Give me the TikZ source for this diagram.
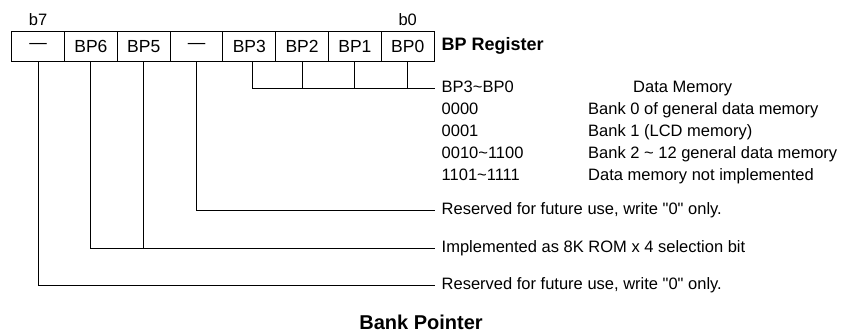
\documentclass[tikz,border=0pt]{standalone}
\usepackage{fontspec}
\setmainfont{Liberation Sans}[Ligatures=TeXOff]
\begin{document}
\begin{tikzpicture}[x=1pt,y=-1pt,
  cell/.style={draw=black,line width=0.9pt,minimum width=52.8pt,minimum height=30.7pt,inner sep=0pt,font=\fontsize{17.5}{19}\selectfont},
  lbl/.style={anchor=west,inner sep=0pt,text height=11.5pt,text depth=3pt,font=\fontsize{16.5}{18}\selectfont},
  bitlbl/.style={inner sep=0pt,font=\fontsize{16.5}{18}\selectfont},
  conn/.style={draw=black,line width=0.9pt}]
\useasboundingbox (0,0) rectangle (845,333);
% register cells
\node[cell] (c7) at (38.1,46.3) {—};
\node[cell] (c6) at (90.9,46.3) {BP6};
\node[cell] (c5) at (143.7,46.3) {BP5};
\node[cell] (c4) at (196.5,46.3) {—};
\node[cell] (c3) at (249.3,46.3) {BP3};
\node[cell] (c2) at (302.1,46.3) {BP2};
\node[cell] (c1) at (354.9,46.3) {BP1};
\node[cell] (c0) at (407.7,46.3) {BP0};
\node[bitlbl] (b7) at (38.1,20) {b7};
\node[bitlbl] (b0) at (407.7,20) {b0};
\node[lbl,font=\fontsize{18}{20}\selectfont\bfseries] (reg) at (441.5,46.3) {BP Register};
% data memory table
\node[lbl] (t0) at (441.5,88) {BP3\char`\~BP0};
\node[lbl] (dm) at (633,88) {Data Memory};
\node[lbl] (r1) at (441.5,110) {0000};
\node[lbl] (d1) at (588,110) {Bank 0 of general data memory};
\node[lbl] (r2) at (441.5,132) {0001};
\node[lbl] (d2) at (588,132) {Bank 1 (LCD memory)};
\node[lbl] (r3) at (441.5,154) {0010\char`\~1100};
\node[lbl] (d3) at (588,154) {Bank 2 \char`\~{} 12 general data memory};
\node[lbl] (r4) at (441.5,176) {1101\char`\~1111};
\node[lbl] (d4) at (588,176) {Data memory not implemented};
% descriptions
\node[lbl] (res4) at (441.5,210) {Reserved for future use, write "0" only.};
\node[lbl] (impl) at (441.5,248) {Implemented as 8K ROM x 4 selection bit};
\node[lbl] (res7) at (441.5,285) {Reserved for future use, write "0" only.};
\node[inner sep=0pt,font=\fontsize{20}{22}\selectfont\bfseries] (title) at (421,322) {Bank Pointer};
% connectors
\draw[conn] ([xshift=3.5pt]c3.south) |- ([xshift=-7pt]t0.west);
\draw[conn] (c2.south) -- (c2.south |- t0.west);
\draw[conn] (c1.south) -- (c1.south |- t0.west);
\draw[conn] (c0.south) -- (c0.south |- t0.west);
\draw[conn] (c4.south) |- ([xshift=-7pt]res4.west);
\draw[conn] (c6.south) |- ([xshift=-7pt]impl.west);
\draw[conn] (c5.south) -- (c5.south |- impl.west);
\draw[conn] (c7.south) |- ([xshift=-7pt]res7.west);
\end{tikzpicture}
\end{document}
